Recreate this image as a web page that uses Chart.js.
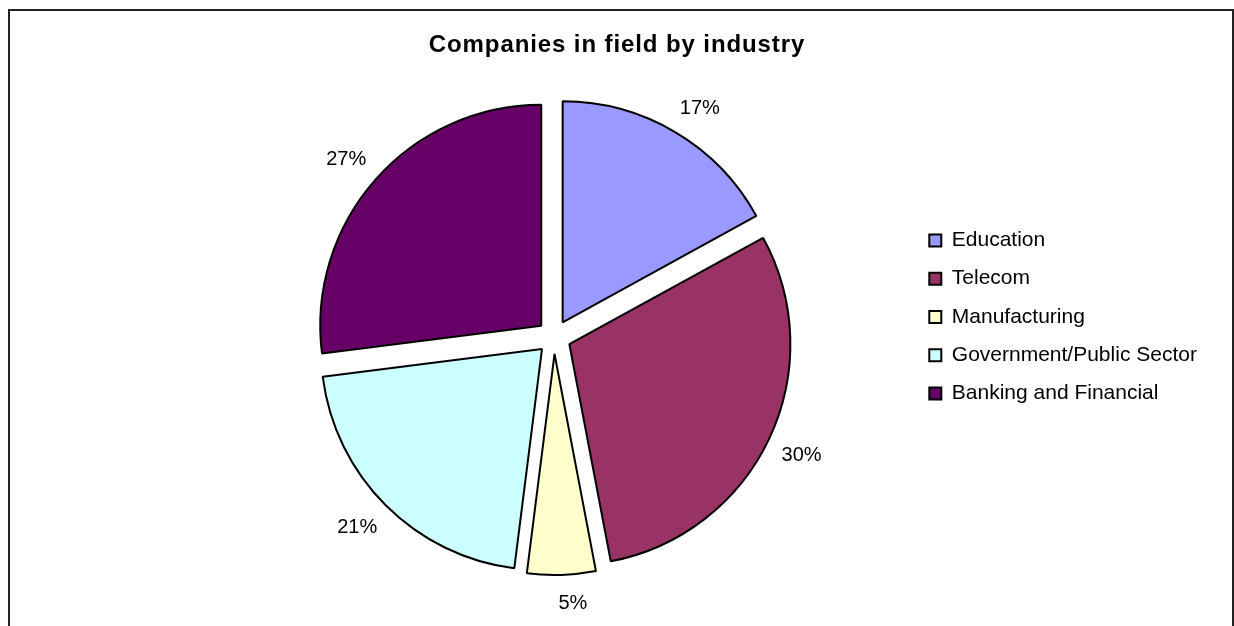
<!DOCTYPE html>
<html>
<head>
<meta charset="utf-8">
<script src="https://cdn.jsdelivr.net/npm/chart.js@4/dist/chart.umd.min.js"></script>
<style>
  html, body { margin: 0; padding: 0; background: #fff; overflow: hidden; }
  #frame {
    position: absolute; left: 8px; top: 9px; width: 1226px; height: 700px;
    box-sizing: border-box; border: 2px solid #222;
  }
  #chart { position: absolute; left: 0; top: 0; }
</style>
</head>
<body>
<div id="frame"></div>
<canvas id="chart" width="1234" height="626"></canvas>
<script>
// values
const industries = ['Education', 'Telecom', 'Manufacturing', 'Government/Public Sector', 'Banking and Financial'];
const shares = [17, 30, 5, 21, 27];
const sliceColors = ['#9999FF', '#993366', '#FFFFCC', '#CCFFFF', '#660066'];

const FONT = '"Liberation Sans", Arial, sans-serif';
const explode = 17;

// pull every slice out along its bisector (Excel style explode, no radius change)
const explodePlugin = {
  id: 'explode',
  afterDatasetUpdate(chart, args) {
    args.meta.data.forEach(arc => {
      const mid = (arc.startAngle + arc.endAngle) / 2;
      arc.x += Math.cos(mid) * explode;
      arc.y += Math.sin(mid) * explode;
    });
  }
};

// the original title is drawn a little wider than plain Arial
const titleSpacing = {
  id: 'titleSpacing',
  afterInit(chart) {
    const block = chart.titleBlock;
    const draw = block.draw.bind(block);
    block.draw = function () {
      chart.ctx.letterSpacing = '0.9px';
      draw();
      chart.ctx.letterSpacing = '0px';
    };
  }
};

// percentage labels outside each slice
const pctLabels = {
  id: 'pctLabels',
  afterDatasetsDraw(chart) {
    const ctx = chart.ctx;
    const meta = chart.getDatasetMeta(0);
    const total = shares.reduce((a, b) => a + b, 0);
    ctx.save();
    ctx.font = '20px ' + FONT;
    ctx.fillStyle = '#000';
    ctx.textAlign = 'center';
    ctx.textBaseline = 'middle';
    meta.data.forEach((arc, i) => {
      const mid = (arc.startAngle + arc.endAngle) / 2;
      const cx = Math.cos(mid), cy = Math.sin(mid);
      const txt = Math.round(shares[i] / total * 100) + '%';
      const w = ctx.measureText(txt).width;
      const d = arc.outerRadius + 19;
      const x = arc.x + cx * d + Math.sign(cx) * 0.75 * w / 2;
      const y = arc.y + cy * d + Math.sign(cy) * 0.75 * 11;
      ctx.fillText(txt, x, y + 1);
    });
    ctx.restore();
  }
};

new Chart(document.getElementById('chart'), {
  type: 'pie',
  data: {
    labels: industries,
    datasets: [{
      data: shares,
      backgroundColor: sliceColors,
      borderColor: '#000',
      borderWidth: 2
    }]
  },
  options: {
    responsive: false,
    animation: false,
    events: [],
    radius: 221,
    layout: { padding: { top: 20, bottom: 12, left: 30, right: 30 } },
    plugins: {
      title: {
        display: true,
        text: 'Companies in field by industry',
        color: '#000',
        font: { family: FONT, size: 24, weight: 'bold' },
        padding: { top: 10.6, bottom: 0.6 }
      },
      // empty spacer on the left so the pie sits left of the title centre
      subtitle: {
        display: true,
        position: 'left',
        text: '',
        font: { size: 10 },
        padding: { top: 77, bottom: 77 }
      },
      legend: {
        position: 'right',
        maxWidth: 292,
        labels: {
          color: '#000',
          font: { family: FONT, size: 21 },
          boxWidth: 12,
          boxHeight: 12,
          padding: 17.3
        }
      },
      tooltip: { enabled: false }
    }
  },
  plugins: [explodePlugin, titleSpacing, pctLabels]
});
</script>
</body>
</html>
